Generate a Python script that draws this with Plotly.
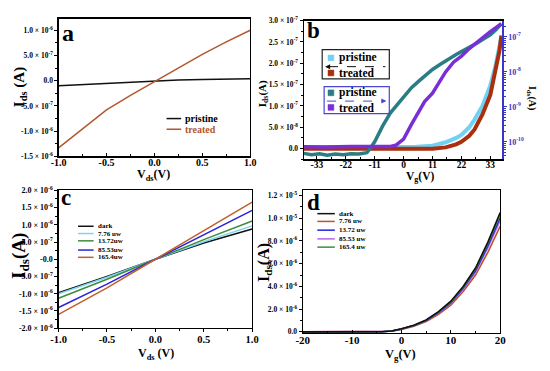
import plotly.graph_objects as go

W, H = 550, 371
SERIF = "Liberation Serif, Times New Roman, serif"

def px(x):
    return x / W

def py(y):
    return 1 - y / H

# ---------------- Panel a data ----------------
a_vds = [-1.0, -0.75, -0.5, -0.25, 0.0, 0.25, 0.5, 0.75, 1.0]
a_pristine = [-0.10e-6, -0.075e-6, -0.05e-6, -0.025e-6, 0.0, 0.012e-6, 0.025e-6, 0.033e-6, 0.04e-6]
a_treated = [-1.33e-6, -0.95e-6, -0.58e-6, -0.29e-6, -0.02e-6, 0.26e-6, 0.52e-6, 0.77e-6, 1.0e-6]

# ---------------- Panel b data ----------------
b_vg_log = [-38, -35, -32, -29, -26, -23, -20, -17, -14, -13, -11, -8, -5, -2, 0, 3, 6, 9, 11, 14, 17, 20, 22, 25, 28, 31, 33, 35, 37.2]
b_teal_log = [-10.33, -10.37, -10.34, -10.38, -10.35, -10.37, -10.34, -10.35, -10.31, -10.22, -10.0, -9.55, -9.17, -8.9, -8.7,
              -8.45, -8.25, -8.05, -7.93, -7.78, -7.63, -7.5, -7.42, -7.3, -7.17, -7.03, -6.94, -6.8, -6.62]
b_vg_log2 = [-38, -30, -20, -10, -5, -3, 0, 3, 5.5, 8, 11, 13.5, 16, 19, 22, 25, 27.5, 31, 33, 35, 37.2]
b_purple_log = [-10.14, -10.15, -10.13, -10.14, -10.13, -10.1, -9.92, -9.5, -9.17, -8.85, -8.61, -8.3, -8.0, -7.72, -7.55,
                -7.33, -7.17, -6.97, -6.85, -6.74, -6.62]
b_vg_lin = [-38, -30, -20, -10, 0, 5, 11, 16, 20, 22, 25, 27, 30, 33, 35, 36.5, 37.2]
b_lightblue = [0.04e-7, 0.04e-7, 0.04e-7, 0.04e-7, 0.04e-7, 0.045e-7, 0.07e-7, 0.15e-7, 0.25e-7, 0.32e-7, 0.5e-7,
               0.68e-7, 1.0e-7, 1.48e-7, 1.95e-7, 2.35e-7, 2.62e-7]
b_darkred = [0.0, 0.0, -0.01e-7, -0.01e-7, -0.01e-7, -0.01e-7, -0.005e-7, 0.03e-7, 0.1e-7, 0.16e-7, 0.3e-7,
             0.45e-7, 0.8e-7, 1.26e-7, 1.8e-7, 2.3e-7, 2.65e-7]

# ---------------- Panel c data ----------------
c_vds = [-1.0, -0.5, 0.0, 0.5, 1.0]
c_names = ["dark", "7.76 uw", "13.72uw", "85.53uw", "165.4uw"]
c_dark = [-0.97e-6, -0.50e-6, 0.0, 0.47e-6, 0.88e-6]
c_776 = [-1.00e-6, -0.52e-6, 0.0, 0.51e-6, 0.97e-6]
c_1372 = [-1.13e-6, -0.58e-6, 0.0, 0.57e-6, 1.11e-6]
c_8553 = [-1.40e-6, -0.72e-6, 0.0, 0.72e-6, 1.42e-6]
c_1654 = [-1.60e-6, -0.83e-6, 0.0, 0.84e-6, 1.66e-6]
c_colors = ["#111111", "#7fd4f2", "#3d8c3a", "#2a22e0", "#c2602c"]

# ---------------- Panel d data ----------------
d_vg = [-20, -10, -5, -4, -2, 0, 2.5, 5, 7.5, 10, 12.5, 15, 17.5, 20]
d_names = ["dark", "7.76 uw", "13.72 uw", "85.53 uw", "165.4 uw"]
d_dark = [0, 0, 0, 0.01e-6, 0.08e-6, 0.27e-6, 0.58e-6, 1.05e-6, 1.78e-6, 2.70e-6, 4.00e-6, 5.62e-6, 7.90e-6, 10.5e-6]
d_776 = [0, 0, 0, 0, 0.05e-6, 0.21e-6, 0.49e-6, 0.91e-6, 1.55e-6, 2.36e-6, 3.55e-6, 5.00e-6, 7.00e-6, 9.3e-6]
d_1372 = [0, 0, 0, 0.01e-6, 0.07e-6, 0.25e-6, 0.55e-6, 1.00e-6, 1.70e-6, 2.57e-6, 3.85e-6, 5.40e-6, 7.58e-6, 10.06e-6]
d_8553 = [0, 0, 0, 0.01e-6, 0.06e-6, 0.24e-6, 0.53e-6, 0.97e-6, 1.65e-6, 2.50e-6, 3.75e-6, 5.27e-6, 7.40e-6, 9.8e-6]
d_1654 = [0, 0, 0, 0.01e-6, 0.07e-6, 0.26e-6, 0.57e-6, 1.03e-6, 1.74e-6, 2.64e-6, 3.92e-6, 5.52e-6, 7.75e-6, 10.3e-6]
d_colors = ["#111111", "#c0522c", "#2020e8", "#b266f0", "#3d8c3a"]

# ---------------- Tick labels ----------------
a_yticks = [-1.5e-6, -1.0e-6, -5.0e-7, 0.0, 5.0e-7, 1.0e-6]
a_ylabels = ["-1.5 × 10<sup>-6</sup>", "-1.0 × 10<sup>-6</sup>", "-5.0 × 10<sup>-7</sup>", "0.0",
             "5.0 × 10<sup>-7</sup>", "1.0 × 10<sup>-6</sup>"]
v_ticks = [-1.0, -0.5, 0.0, 0.5, 1.0]
v_labels = ["-1.0", "-0.5", "0.0", "0.5", "1.0"]
b_xticks = [-33, -22, -11, 0, 11, 22, 33]
b_yticks = [0.0, 5.0e-8, 1.0e-7, 1.5e-7, 2.0e-7, 2.5e-7, 3.0e-7]
b_ylabels = ["0.0", "5.0 × 10<sup>-8</sup>", "1.0 × 10<sup>-7</sup>", "1.5 × 10<sup>-7</sup>",
             "2.0 × 10<sup>-7</sup>", "2.5 × 10<sup>-7</sup>", "3.0 × 10<sup>-7</sup>"]
b_rticks = [1e-10, 1e-9, 1e-8, 1e-7]
b_rlabels = ["10<sup>-10</sup>", "10<sup>-9</sup>", "10<sup>-8</sup>", "10<sup>-7</sup>"]
c_yticks = [-2.0e-6, -1.5e-6, -1.0e-6, -5.0e-7, 0.0, 5.0e-7, 1.0e-6, 1.5e-6, 2.0e-6]
c_ylabels = ["-2.0 × 10<sup>-6</sup>", "-1.5 × 10<sup>-6</sup>", "-1.0 × 10<sup>-6</sup>", "-5.0 × 10<sup>-7</sup>",
             "-0.0", "5.0 × 10<sup>-7</sup>", "1.0 × 10<sup>-6</sup>", "1.5 × 10<sup>-6</sup>", "2.0 × 10<sup>-6</sup>"]
d_xticks = [-20, -10, 0, 10, 20]
d_yticks = [0.0, 2.0e-6, 4.0e-6, 6.0e-6, 8.0e-6, 1.0e-5, 1.2e-5]
d_ylabels = ["0.0", "2.0 × 10<sup>-6</sup>", "4.0 × 10<sup>-6</sup>", "6.0 × 10<sup>-6</sup>",
             "8.0 × 10<sup>-6</sup>", "1.0 × 10<sup>-5</sup>", "1.2 × 10<sup>-5</sup>"]


def bold(lst):
    return ["<b>%s</b>" % s for s in lst]


fig = go.Figure()

# Panel a
fig.add_trace(go.Scatter(x=a_vds, y=a_pristine, mode="lines", line=dict(color="#111111", width=1.5),
                         xaxis="x", yaxis="y", showlegend=False))
fig.add_trace(go.Scatter(x=a_vds, y=a_treated, mode="lines", line=dict(color="#b4562e", width=1.5),
                         xaxis="x", yaxis="y", showlegend=False))

# Panel b
fig.add_trace(go.Scatter(x=b_vg_lin, y=b_lightblue, mode="lines", line=dict(color="#6fd2f4", width=4),
                         xaxis="x2", yaxis="y2", showlegend=False))
fig.add_trace(go.Scatter(x=b_vg_lin, y=b_darkred, mode="lines", line=dict(color="#a8300f", width=4),
                         xaxis="x2", yaxis="y2", showlegend=False))
fig.add_trace(go.Scatter(x=b_vg_log, y=[10 ** v for v in b_teal_log], mode="lines",
                         line=dict(color="#2a7d84", width=3.5), xaxis="x2", yaxis="y3", showlegend=False))
fig.add_trace(go.Scatter(x=b_vg_log2, y=[10 ** v for v in b_purple_log], mode="lines",
                         line=dict(color="#7a2fd6", width=3.5), xaxis="x2", yaxis="y3", showlegend=False))

# Panel c
for ys, col in zip([c_dark, c_776, c_1372, c_8553, c_1654], c_colors):
    fig.add_trace(go.Scatter(x=c_vds, y=ys, mode="lines", line=dict(color=col, width=1.5),
                             xaxis="x3", yaxis="y4", showlegend=False))

# Panel d
for ys, col in zip([d_776, d_8553, d_1372, d_1654, d_dark], [d_colors[1], d_colors[3], d_colors[2], d_colors[4], d_colors[0]]):
    fig.add_trace(go.Scatter(x=d_vg, y=ys, mode="lines", line=dict(color=col, width=1.6),
                             xaxis="x4", yaxis="y5", showlegend=False))


def axis(domain, anchor, tickvals, ticktext, rng, size, minor_dtick=None, mirror=True, ticks="outside", **kw):
    d = dict(domain=domain, anchor=anchor, range=rng, tickmode="array", tickvals=tickvals,
             ticktext=bold(ticktext), showline=True, linecolor="black", linewidth=1.2, mirror=mirror,
             ticks=ticks, ticklen=3, tickwidth=1, tickcolor="black", showgrid=False, zeroline=False,
             tickfont=dict(family=SERIF, size=size, color="black"), fixedrange=True)
    if minor_dtick is not None:
        d["minor"] = dict(ticks=ticks, ticklen=2, tickwidth=1, tickcolor="black", dtick=minor_dtick)
    d.update(kw)
    return d


layout = dict(
    width=W, height=H, margin=dict(l=0, r=0, t=0, b=0), autosize=False,
    paper_bgcolor="white", plot_bgcolor="white", showlegend=False,
    font=dict(family=SERIF, color="black"),
    xaxis=axis([px(52), px(249)], "y", v_ticks, v_labels, [-1, 1], 10, 0.25, ticks="inside",
               ticklabelstandoff=-4),
    yaxis=axis([py(155), py(13)], "x", a_yticks, a_ylabels, [-1.5e-6, 1.23e-6], 7.5, 2.5e-7),
    xaxis2=axis([px(304), px(508)], "y2", b_xticks, [str(v) for v in b_xticks], [-38, 37.5], 9.5, 5.5,
                ticks="inside", ticklabelstandoff=-4),
    yaxis2=axis([py(158), py(15)], "x2", b_yticks, b_ylabels, [-0.25e-7, 3.0e-7], 7.5, 2.5e-8, mirror=False),
    yaxis3=dict(overlaying="y2", anchor="x2", side="right", type="log", range=[-10.5, -6.53],
                tickmode="array", tickvals=b_rticks, ticktext=bold(b_rlabels), showline=True,
                linecolor="#3a36c8", linewidth=1.5, ticks="outside", ticklen=3, tickcolor="#3a36c8",
                showgrid=False, zeroline=False, tickfont=dict(family=SERIF, size=8, color="#3a36c8"),
                minor=dict(ticks="outside", ticklen=2, tickcolor="#3a36c8", dtick="D1"), fixedrange=True),
    xaxis3=axis([px(52), px(251)], "y4", v_ticks, v_labels, [-1, 1], 10.5, 0.25, ticklabelstandoff=-2),
    yaxis4=axis([py(332), py(190)], "x3", c_yticks, c_ylabels, [-2.0e-6, 2.0e-6], 8, 2.5e-7),
    xaxis4=axis([px(303), px(506)], "y5", d_xticks, [str(v) for v in d_xticks], [-20, 20], 11, 5,
                ticks="inside", ticklabelstandoff=-3),
    yaxis5=axis([py(337), py(190)], "x4", d_yticks, d_ylabels, [-0.01e-5, 1.245e-5], 7.5, 1e-6),
)
fig.update_layout(**layout)

ann = []
def text(x, y, s, size, color="black", angle=0, xanchor="center"):
    ann.append(dict(x=px(x), y=py(y), xref="paper", yref="paper", text="<b>%s</b>" % s, showarrow=False,
                    font=dict(family=SERIF, size=size, color=color), textangle=angle,
                    xanchor=xanchor, yanchor="middle"))

# panel letters
text(62, 28, "a", 24)
text(314, 25, "b", 23)
text(60, 197, "c", 23)
text(314, 203, "d", 23)

# axis titles
text(12, 84, "I<sub>ds</sub> (A)", 15, angle=-90)
text(150, 174, "V<sub>ds</sub>(V)", 12)
text(262, 90, "I<sub>ds</sub>(A)", 11, angle=-90)
text(424, 176.5, "V<sub>g</sub>(V)", 11.5)
text(539, 95, "I<sub>ds</sub>(A)", 10, angle=90)
text(13, 258, "I<sub>ds</sub>(A)", 19, angle=-90)
text(152, 359, "V<sub>ds</sub> (V)", 12)
text(263, 264, "I<sub>ds</sub>(A)", 16, angle=-90)
text(404, 360, "V<sub>g</sub>(V)", 12.5)

shapes = []
def seg(x0, y0, x1, y1, color, width=1.5, dash="solid"):
    shapes.append(dict(type="line", xref="paper", yref="paper", x0=px(x0), y0=py(y0), x1=px(x1), y1=py(y1),
                       line=dict(color=color, width=width, dash=dash)))

def rect(x0, y0, x1, y1, line_color, fill=None, width=1.2):
    shapes.append(dict(type="rect", xref="paper", yref="paper", x0=px(x0), y0=py(y0), x1=px(x1), y1=py(y1),
                       line=dict(color=line_color, width=width), fillcolor=fill if fill else "rgba(0,0,0,0)"))

# legend a
seg(163, 116, 178, 116, "#111111", 1.5)
text(180, 116, "pristine", 10, xanchor="left")
seg(163, 127, 178, 127, "#b4562e", 1.5)
text(180, 127, "treated", 10, color="#b4562e", xanchor="left")

# legend b (upper, linear axis)
rect(323, 45, 392, 75, "#222222", width=1.2)
rect(329, 50.5, 335, 56.5, "#6fd2f4", "#6fd2f4", width=0.5)
text(338, 53, "pristine", 11.5, xanchor="left")
seg(330, 62.5, 388, 62.5, "#111111", 1, "dash")
ann.append(dict(x=px(326), y=py(62.5), xref="paper", yref="paper", ax=6, ay=0, text="", showarrow=True,
                arrowhead=2, arrowsize=1, arrowwidth=1, arrowcolor="#111111"))
rect(329, 66, 335, 72, "#a8300f", "#a8300f", width=0.5)
text(338, 69.5, "treated", 11.5, xanchor="left")
# legend b (lower, log axis)
rect(325, 83, 392, 111, "#4a46d0", width=1.2)
rect(329, 86.5, 335, 92.5, "#2a7d84", "#2a7d84", width=0.5)
text(338, 89.5, "pristine", 11.5, xanchor="left")
seg(328, 98, 385, 98, "#4a46d0", 1, "dash")
ann.append(dict(x=px(389), y=py(98), xref="paper", yref="paper", ax=-6, ay=0, text="", showarrow=True,
                arrowhead=2, arrowsize=1, arrowwidth=1, arrowcolor="#4a46d0"))
rect(329, 101.5, 335, 107.5, "#7a2fd6", "#7a2fd6", width=0.5)
text(338, 105, "treated", 11.5, xanchor="left")

# legend c
for i, (nm, col) in enumerate(zip(c_names, c_colors)):
    yy = [227, 234.5, 242, 251.5, 259][i]
    seg(72, yy, 88, yy, col, 1.5)
    text(90, yy, nm, 7, xanchor="left")

# legend d
for i, (nm, col) in enumerate(zip(d_names, d_colors)):
    yy = [214, 222, 231, 240, 248.5][i]
    seg(318, yy, 336, yy, col, 1.5)
    text(338, yy, nm, 7, xanchor="left")

fig.update_layout(annotations=ann, shapes=shapes)
fig.write_html(
    "out.html",
    config=dict(displayModeBar=False, staticPlot=True),
    post_script="document.body.style.margin='0';document.body.style.padding='0';"
                "document.documentElement.style.overflow='hidden';document.body.style.overflow='hidden';",
)
